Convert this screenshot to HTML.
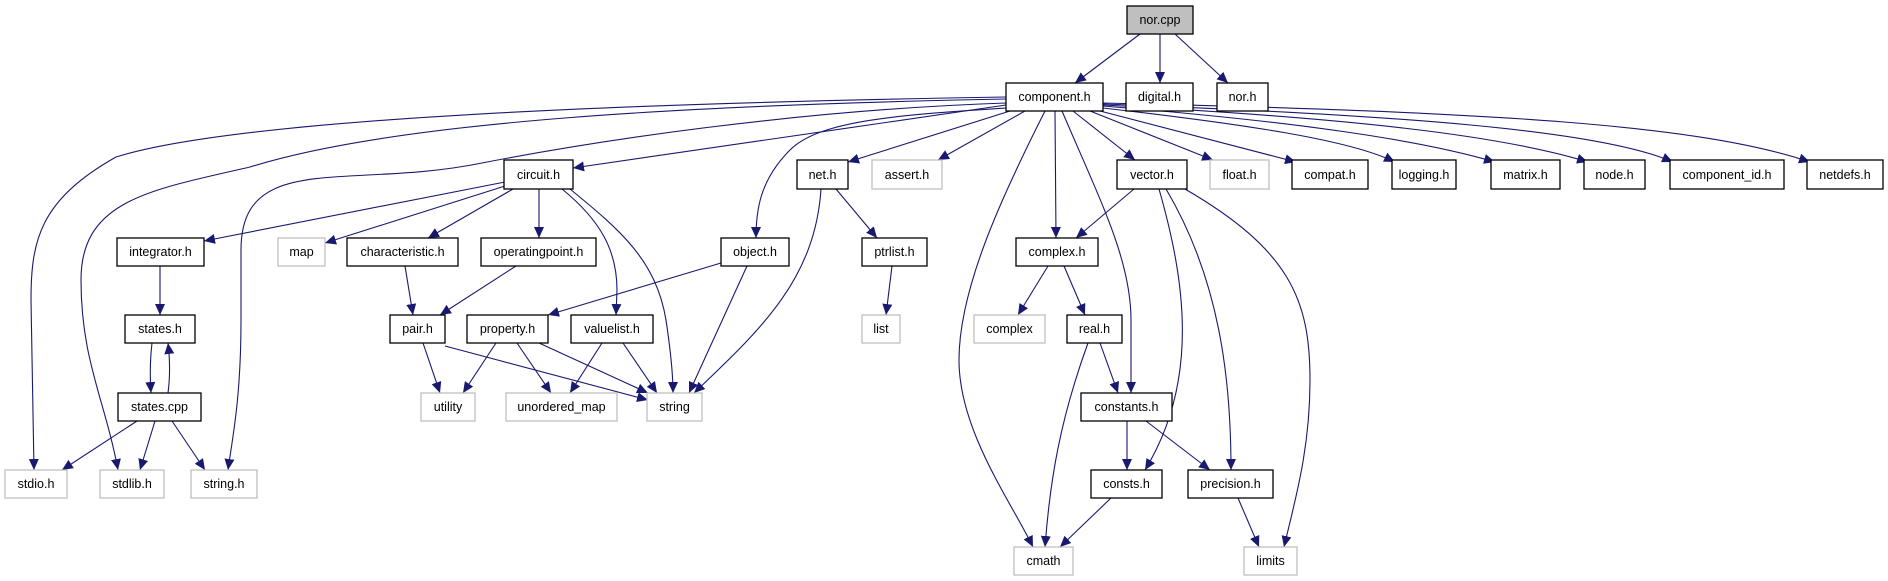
<!DOCTYPE html>
<html><head><meta charset="utf-8"><style>
html,body{margin:0;padding:0;background:#fff}
svg{display:block}
text{font-family:"Liberation Sans",Arial,sans-serif;font-size:12.5px;fill:#000}
</style></head><body>
<svg width="1888" height="581" viewBox="0 0 1888 581" xmlns="http://www.w3.org/2000/svg">
<defs>
<marker id="a" markerUnits="userSpaceOnUse" markerWidth="12" markerHeight="10" refX="11" refY="5" orient="auto">
<path d="M0,0 L11,5 L0,10 Z" fill="#191970"/>
</marker>
</defs>
<g fill="none" stroke="#191970" stroke-width="1.1" marker-end="url(#a)">
<path d="M1140,34 L1075,83"/>
<path d="M1160,34 L1160,83"/>
<path d="M1175,34 L1228,83"/>
<path d="M1006,97 C700,102 250,115 116,157 C40,200 31,240 31,300 L34,470"/>
<path d="M1006,99 C700,105 400,120 250,167 C150,190 81,200 81,280 C81,360 105,400 118,470"/>
<path d="M1006,103 C800,110 600,140 482,163 C350,190 241,150 241,250 L241,320 C241,400 232,440 228,470"/>
<path d="M1006,105 L573,168"/>
<path d="M1006,108 C900,115 820,120 790,150 C760,180 756,210 756,238"/>
<path d="M1010,111 L848,162"/>
<path d="M1025,111 L938,160"/>
<path d="M1045,111 C1000,200 959,290 959,360 C959,430 1010,500 1033,547"/>
<path d="M1055,111 L1056,238"/>
<path d="M1062,111 C1100,200 1131,260 1131,320 L1131,393"/>
<path d="M1073,111 L1135,160"/>
<path d="M1090,111 L1213,160"/>
<path d="M1100,111 L1296,162"/>
<path d="M1103,108 C1250,125 1350,140 1395,162"/>
<path d="M1103,106 C1300,122 1420,140 1495,162"/>
<path d="M1103,105 C1350,118 1500,135 1588,162"/>
<path d="M1103,104 C1400,115 1600,130 1673,162"/>
<path d="M1103,103 C1500,112 1700,125 1810,162"/>
<path d="M505,182 L204,241"/>
<path d="M505,186 L325,243"/>
<path d="M513,189 L428,238"/>
<path d="M539,189 L539,238"/>
<path d="M562,189 C600,220 617,250 617,290 L616,315"/>
<path d="M570,189 C620,230 656,260 666,320 C672,360 673,380 673,393"/>
<path d="M160,266 L160,315"/>
<path d="M152,343 C150,360 150,378 151,393"/>
<path d="M168,393 C170,378 170,360 168,343"/>
<path d="M137,421 L62,470"/>
<path d="M155,421 L140,470"/>
<path d="M172,421 L205,470"/>
<path d="M405,266 L413,315"/>
<path d="M516,266 L440,315"/>
<path d="M721,263 L548,315"/>
<path d="M747,266 L689,393"/>
<path d="M821,189 C815,280 760,330 694,393"/>
<path d="M836,189 L877,238"/>
<path d="M892,266 L886,315"/>
<path d="M423,343 L440,393"/>
<path d="M445,346 L648,400"/>
<path d="M496,343 L463,393"/>
<path d="M517,343 L551,393"/>
<path d="M539,343 L648,393"/>
<path d="M602,343 L570,393"/>
<path d="M623,343 L657,393"/>
<path d="M1134,189 L1076,238"/>
<path d="M1159,189 C1185,280 1200,380 1145,470"/>
<path d="M1166,189 C1220,280 1231,380 1231,470"/>
<path d="M1185,189 C1290,250 1310,300 1310,380 C1310,450 1295,500 1284,547"/>
<path d="M1048,266 L1018,315"/>
<path d="M1064,266 L1085,315"/>
<path d="M1100,343 L1118,393"/>
<path d="M1088,343 C1060,420 1050,480 1045,547"/>
<path d="M1127,421 L1127,470"/>
<path d="M1146,421 L1210,470"/>
<path d="M1111,498 L1060,547"/>
<path d="M1238,498 L1259,547"/>
</g>
<g stroke-width="1.3">
<rect x="1127" y="6" width="66" height="28" fill="#bfbfbf" stroke="#000"/>
</g>
<g fill="#fff" stroke="#000" stroke-width="1.3">
<rect x="1006" y="83" width="97" height="28"/>
<rect x="1126" y="83" width="67" height="28"/>
<rect x="1217" y="83" width="51" height="28"/>
<rect x="504" y="160" width="69" height="29"/>
<rect x="797" y="160" width="51" height="29"/>
<rect x="1117" y="160" width="70" height="29"/>
<rect x="1292" y="160" width="76" height="29"/>
<rect x="1392" y="160" width="64" height="29"/>
<rect x="1491" y="160" width="69" height="29"/>
<rect x="1584" y="160" width="61" height="29"/>
<rect x="1670" y="160" width="114" height="29"/>
<rect x="1807" y="160" width="76" height="29"/>
<rect x="117" y="238" width="87" height="28"/>
<rect x="347" y="238" width="111" height="28"/>
<rect x="481" y="238" width="115" height="28"/>
<rect x="721" y="238" width="68" height="28"/>
<rect x="862" y="238" width="65" height="28"/>
<rect x="1016" y="238" width="82" height="28"/>
<rect x="125" y="315" width="70" height="28"/>
<rect x="390" y="315" width="55" height="28"/>
<rect x="467" y="315" width="81" height="28"/>
<rect x="571" y="315" width="82" height="28"/>
<rect x="1067" y="315" width="55" height="28"/>
<rect x="118" y="393" width="83" height="28"/>
<rect x="1081" y="393" width="91" height="28"/>
<rect x="1091" y="470" width="71" height="28"/>
<rect x="1188" y="470" width="85" height="28"/>
</g>
<g fill="#fff" stroke="#bfbfbf" stroke-width="1.3">
<rect x="872" y="160" width="70" height="29"/>
<rect x="1210" y="160" width="59" height="29"/>
<rect x="278" y="238" width="47" height="28"/>
<rect x="862" y="315" width="38" height="28"/>
<rect x="974" y="315" width="71" height="28"/>
<rect x="421" y="393" width="54" height="28"/>
<rect x="506" y="393" width="111" height="28"/>
<rect x="647" y="393" width="55" height="28"/>
<rect x="5" y="470" width="62" height="28"/>
<rect x="100" y="470" width="64" height="28"/>
<rect x="191" y="470" width="66" height="28"/>
<rect x="1014" y="547" width="59" height="28"/>
<rect x="1244" y="547" width="53" height="28"/>
</g>
<g text-anchor="middle">
<text x="1160" y="24">nor.cpp</text>
<text x="1054.5" y="101">component.h</text>
<text x="1159.5" y="101">digital.h</text>
<text x="1242.5" y="101">nor.h</text>
<text x="538.5" y="179">circuit.h</text>
<text x="822.5" y="179">net.h</text>
<text x="907" y="179">assert.h</text>
<text x="1152" y="179">vector.h</text>
<text x="1239.5" y="179">float.h</text>
<text x="1330" y="179">compat.h</text>
<text x="1424" y="179">logging.h</text>
<text x="1525.5" y="179">matrix.h</text>
<text x="1614.5" y="179">node.h</text>
<text x="1727" y="179">component_id.h</text>
<text x="1845" y="179">netdefs.h</text>
<text x="160.5" y="256">integrator.h</text>
<text x="301.5" y="256">map</text>
<text x="402.5" y="256">characteristic.h</text>
<text x="538.5" y="256">operatingpoint.h</text>
<text x="755" y="256">object.h</text>
<text x="894.5" y="256">ptrlist.h</text>
<text x="1057" y="256">complex.h</text>
<text x="160" y="333">states.h</text>
<text x="417.5" y="333">pair.h</text>
<text x="507.5" y="333">property.h</text>
<text x="612" y="333">valuelist.h</text>
<text x="881" y="333">list</text>
<text x="1009.5" y="333">complex</text>
<text x="1094.5" y="333">real.h</text>
<text x="159.5" y="411">states.cpp</text>
<text x="448" y="411">utility</text>
<text x="561.5" y="411">unordered_map</text>
<text x="674.5" y="411">string</text>
<text x="1126.5" y="411">constants.h</text>
<text x="36" y="488">stdio.h</text>
<text x="132" y="488">stdlib.h</text>
<text x="224" y="488">string.h</text>
<text x="1126.5" y="488">consts.h</text>
<text x="1230.5" y="488">precision.h</text>
<text x="1043.5" y="565">cmath</text>
<text x="1270.5" y="565">limits</text>
</g>
</svg>
</body></html>
